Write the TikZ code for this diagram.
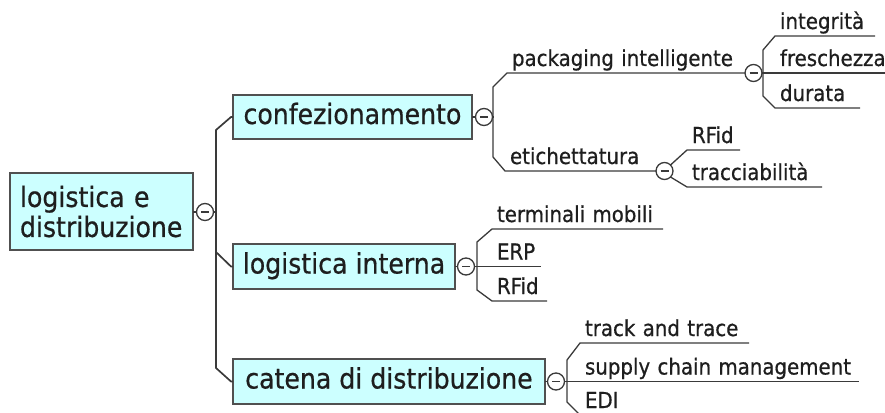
\documentclass[tikz,border=0pt]{standalone}
\usepackage{fontspec}
\setmainfont{DejaVu Sans Condensed}[FakeBold=0.6]
\definecolor{linec}{HTML}{3A3A3A}
\definecolor{boxline}{HTML}{505050}
\definecolor{boxfill}{HTML}{CCFFFF}
\definecolor{txt}{HTML}{1E1E1E}
\begin{document}
\begin{tikzpicture}[x=1pt,y=-1pt,
  line/.style={draw=linec, line width=1.3pt},
  mainline/.style={draw=linec, line width=1.7pt},
  topic/.style={draw=boxline, line width=1.4pt, fill=boxfill, text=txt,
    font=\fontsize{28}{30}\selectfont, inner sep=0pt, outer sep=0pt,
    text height=20pt, text depth=6pt, anchor=west},
  roottopic/.style={draw=boxline, line width=1.4pt, fill=boxfill, text=txt,
    font=\fontsize{28}{30}\selectfont, inner sep=0pt, outer sep=0pt, align=left},
  sub/.style={anchor=south west, inner xsep=5pt, inner ysep=7pt, outer sep=0pt,
    text depth=0pt, text height=16pt, align=left, text=txt,
    font=\fontsize{22}{24}\selectfont},
  collapse/.style={circle, draw=linec, line width=1.3pt, fill=white,
    minimum size=17pt, inner sep=0pt, outer sep=0pt,
    path picture={\draw[line width=1.3pt, linec]
      ([xshift=4.5pt]path picture bounding box.west) --
      ([xshift=-4.5pt]path picture bounding box.east);}},
]
\useasboundingbox (0,0) rectangle (885,412);
\clip (0,0) rectangle (885,412);

% main topics
\node[roottopic, minimum width=183pt, minimum height=77pt, text width=163pt,
      anchor=north west] (root) at (10,173) {logistica e\\distribuzione};
\node[topic, minimum width=239pt, minimum height=44pt] (conf) at (233,117) {confezionamento};
\node[topic, minimum width=222pt, minimum height=45pt] (logi) at (233,266.5) {logistica interna};
\node[topic, minimum width=312pt, minimum height=45pt] (cate) at (233,381.5) {catena di distribuzione};

% collapse markers of main topics
\node[collapse] (rc) at (205,212) {};
\node[collapse] (cc) at (484,117) {};
\node[collapse] (lc) at (466,266.5) {};
\node[collapse] (ctc) at (556,381.5) {};
\coordinate (j0) at (216,212);

\draw[line] (root.east |- rc) -- (rc.west);
\draw[mainline] (rc.east) -- (j0);
\draw[mainline] (j0) -- (216,130) -- (231,117) -- (conf.west);
\draw[mainline] (j0) -- (216,252) -- (231,266.5) -- (logi.west);
\draw[mainline] (j0) -- (216,368) -- (231,381.5) -- (cate.west);

% confezionamento
\node[sub, text width=228pt] (pk) at (507,73) {packaging intelligente};
\node[collapse, anchor=west] (pkc) at (pk.south east) {};
\node[sub, text width=141pt] (et) at (505,171) {etichettatura};
\node[collapse, anchor=west] (etc) at (et.south east) {};
\draw[line] (conf.east) -- (cc.west);
\draw[line] (cc.east) -- (493,117);
\draw[line] (493,117) -- (493,87) -- (pk.south west) -- (pk.south east);
\draw[line] (493,117) -- (493,157) -- (et.south west) -- (et.south east);

% packaging intelligente
\node[sub, text width=90pt] (integ) at (775,36) {integrità};
\node[sub, text width=120pt] (fresh) at (775,73) {freschezza};
\node[sub, text width=75pt] (dur) at (775,108) {durata};
\draw[line] (pkc.east) -- (fresh.south west) -- (fresh.south east);
\draw[line] (763,73) -- (763,50) -- (integ.south west) -- (integ.south east);
\draw[line] (763,73) -- (763,96) -- (dur.south west) -- (dur.south east);

% etichettatura
\node[sub, text width=43pt] (rf1) at (687,150) {RFid};
\node[sub, text width=125pt] (trac) at (687,187) {tracciabilità};
\draw[line] (etc.north east) -- (rf1.south west) -- (rf1.south east);
\draw[line] (etc.south east) -- (trac.south west) -- (trac.south east);

% logistica interna
\node[sub, text width=161pt] (term) at (492,229) {terminali mobili};
\node[sub, text width=39pt] (erp) at (492,266.5) {ERP};
\node[sub, text width=45pt] (rf2) at (492,301) {RFid};
\draw[line] (logi.east) -- (lc.west);
\draw[line] (lc.east) -- (erp.south west) -- (erp.south east);
\draw[line] (477,266.5) -- (477,242) -- (term.south west) -- (term.south east);
\draw[line] (477,266.5) -- (477,290) -- (rf2.south west) -- (rf2.south east);

% catena di distribuzione
\node[sub, text width=159pt] (track) at (580,343) {track and trace};
\node[sub, text width=269pt] (supply) at (580,381.5) {supply chain management};
\node[sub, text width=40pt] (edi) at (580,415) {EDI};
\draw[line] (cate.east) -- (ctc.west);
\draw[line] (ctc.east) -- (supply.south west) -- (supply.south east);
\draw[line] (567,381.5) -- (567,360) -- (track.south west) -- (track.south east);
\draw[line] (567,381.5) -- (567,402) -- (edi.south west) -- (edi.south east);
\end{tikzpicture}
\end{document}
